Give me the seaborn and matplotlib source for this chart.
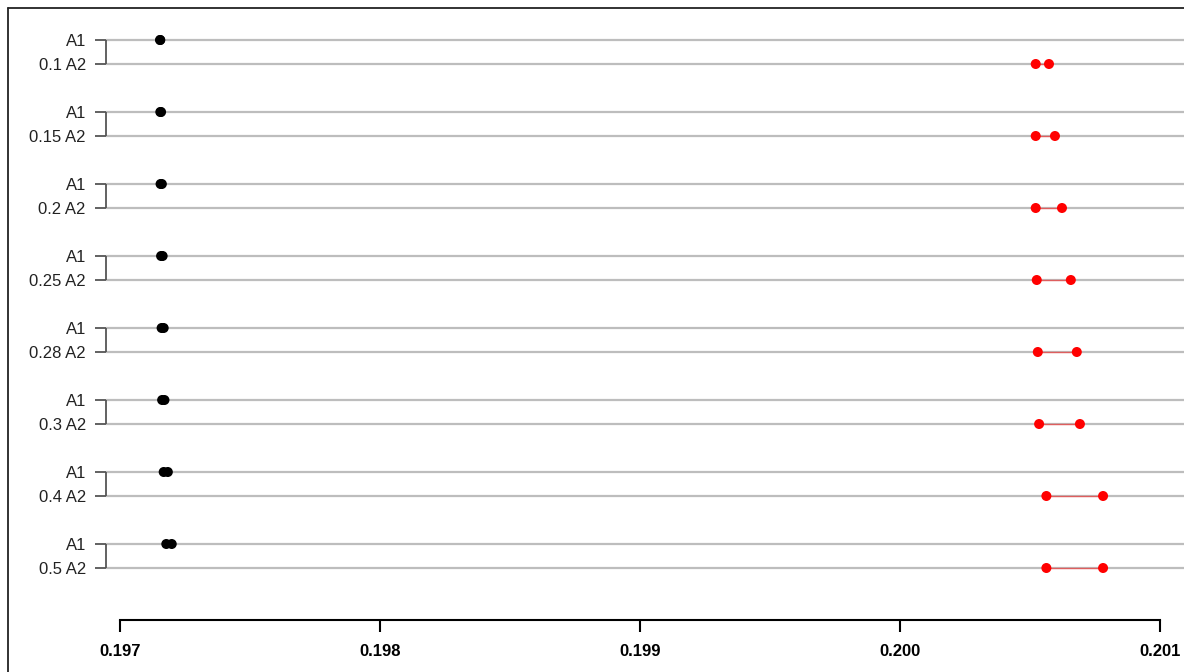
import numpy as np
import pandas as pd
import matplotlib
matplotlib.use("Agg")
import matplotlib.pyplot as plt
from matplotlib.lines import Line2D
import seaborn as sns

# Mixing ratios of the second component
ratios = ["0.1", "0.15", "0.2", "0.25", "0.28", "0.3", "0.4", "0.5"]

# Interval end points for A1 (black) and for each ratio of A2 (red)
a1_low = [0.197154, 0.197155, 0.197156, 0.197158, 0.197160, 0.197162, 0.197168, 0.197178]
a1_high = [0.197155, 0.197158, 0.197161, 0.197164, 0.197168, 0.197171, 0.197184, 0.197199]
a2_low = [0.200522, 0.200522, 0.200522, 0.200526, 0.200530, 0.200535, 0.200563, 0.200563]
a2_high = [0.200573, 0.200596, 0.200623, 0.200657, 0.200680, 0.200692, 0.200781, 0.200781]

x_ticks = [0.197, 0.198, 0.199, 0.200, 0.201]
x_tick_labels = ["0.197", "0.198", "0.199", "0.200", "0.201"]

# Long table: each pair of rows (A1 above, ratio A2 below) is one group
records = []
for i, r in enumerate(ratios):
    for series, lo, hi, pos, lab in (
        ("A1", a1_low[i], a1_high[i], 3 * i, "A1"),
        ("A2", a2_low[i], a2_high[i], 3 * i + 1, f"{r} A2"),
    ):
        records.append({"series": series, "pos": pos, "label": lab, "low": lo, "high": hi})
intervals = pd.DataFrame(records)
points = intervals.melt(id_vars=["series", "pos", "label"], value_vars=["low", "high"],
                        var_name="end", value_name="value")

sns.set_theme(style="white")
plt.rcParams["font.family"] = ["Liberation Sans", "DejaVu Sans"]

W, H = 1184, 672
fig = plt.figure(figsize=(W / 100, H / 100), dpi=100)
ax = fig.add_axes([106 / W, 52 / H, 1078 / W, 604 / H])

px = 0.001 / 260.0
ax.set_xlim(0.197 - 14 * px, 0.201 + 24 * px)
ax.set_ylim((620 - 40) / 24, -1)

# Light guide line for every row
for pos in intervals["pos"]:
    ax.axhline(pos, color="#bdbdbd", lw=1.6, zorder=1)

# Segment joining the two ends of each interval
colors = {"A1": "black", "A2": "#ff0000"}
for _, row in intervals.iterrows():
    ax.hlines(row["pos"], row["low"], row["high"], colors=colors[row["series"]],
              lw=1.0, alpha=0.5, zorder=2)

sns.scatterplot(data=points, x="value", y="pos", hue="series", palette=colors,
                s=52, linewidth=0, legend=False, ax=ax, zorder=3)

# Brackets tying each A1 row to its A2 row
ax.vlines([0] * len(ratios), [3 * i for i in range(len(ratios))],
          [3 * i + 1 for i in range(len(ratios))],
          transform=ax.get_yaxis_transform(), colors="#555555", lw=1.3, clip_on=False)

ax.set_yticks(intervals["pos"].tolist())
ax.set_yticklabels(intervals["label"].tolist(), fontsize=12, color="#222222")
ax.tick_params(axis="y", left=True, length=8, width=1.3, color="#555555", pad=6.5)

ax.set_xticks(x_ticks)
ax.set_xticklabels(x_tick_labels, fontsize=12, fontweight="bold", color="black")
ax.tick_params(axis="x", bottom=True, direction="out", length=8.6, width=1.5,
               color="black", pad=9)

for side in ("top", "right", "left"):
    ax.spines[side].set_visible(False)
ax.spines["bottom"].set_bounds(0.197, 0.201)
ax.spines["bottom"].set_linewidth(1.5)
ax.spines["bottom"].set_color("black")
ax.set_xlabel("")
ax.set_ylabel("")
ax.grid(False)

# Outer frame along the left and top edges
fig.add_artist(Line2D([8 / W, 8 / W], [0, 1 - 8 / H], color="#222222", lw=1.3))
fig.add_artist(Line2D([8 / W, 1], [1 - 8 / H, 1 - 8 / H], color="#222222", lw=1.3))

fig.savefig("out.png", dpi=100)
